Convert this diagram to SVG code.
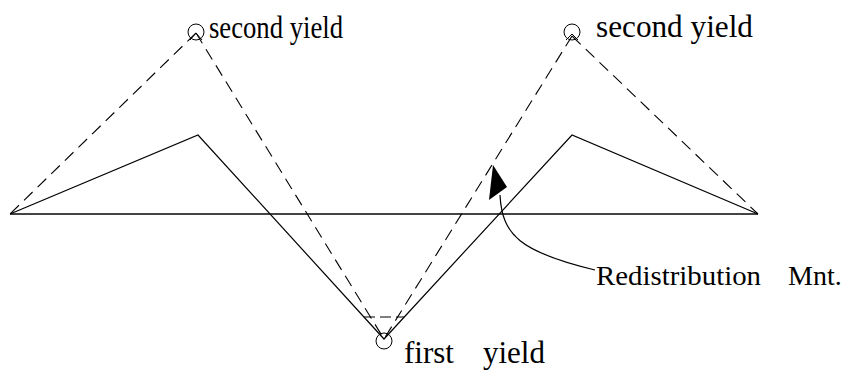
<svg xmlns="http://www.w3.org/2000/svg" width="845" height="372" viewBox="0 0 845 372">
  <style>
    .solid { fill: none; stroke: #000; stroke-width: 1.2; }
    .dash { fill: none; stroke: #000; stroke-width: 1.1; stroke-dasharray: 12 7; }
    .base { fill: none; stroke: #444; stroke-width: 1.8; }
    .hinge { fill: none; stroke: #000; stroke-width: 1; }
    text { font-family: 'Liberation Serif', 'Times New Roman', Tinos, 'DejaVu Serif', serif; fill: #000; }
  </style>
  <rect width="845" height="372" fill="#fff"/>

  <g id="connectors">
    <line class="base" x1="10" y1="214" x2="758" y2="214"/>
    <polyline class="solid" points="10,214 198,135 384,339 572,135 758,214"/>
    <polyline class="dash" points="196,33 10,214"/>
    <polyline class="dash" points="196,33 384,339"/>
    <polyline class="dash" points="572,36 384,339"/>
    <polyline class="dash" points="572,36 758,214"/>
    <line class="dash" x1="364" y1="317" x2="404" y2="317" style="stroke-dasharray:11 5"/>
  </g>

  <g id="second-yield-left">
    <circle class="hinge" cx="196" cy="32" r="8"/>
    <polyline class="hinge" points="190,40 196,33 202,40"/>
    <text font-family="'Liberation Serif', serif" x="209" y="38" font-size="31" textLength="134" lengthAdjust="spacingAndGlyphs">second yield</text>
  </g>

  <g id="second-yield-right">
    <circle class="hinge" cx="572" cy="32" r="8"/>
    <polyline class="hinge" points="566,40 572,34 578,40"/>
    <text font-family="'Liberation Serif', serif" x="596" y="37" font-size="31" textLength="157" lengthAdjust="spacingAndGlyphs">second yield</text>
  </g>

  <g id="first-yield">
    <circle class="hinge" cx="384" cy="341" r="8"/>
    <text font-family="'Liberation Serif', serif" x="404" y="363" font-size="31"><tspan x="404">first</tspan><tspan x="483">yield</tspan></text>
  </g>

  <g id="redistribution">
    <path class="solid" d="M500,195 C502,235 520,252 595,270"/>
    <polygon points="493,165 507,187 489,200" fill="#000"/>
    <text font-family="'Liberation Serif', serif" x="596" y="285" font-size="28"><tspan x="596" textLength="165" lengthAdjust="spacingAndGlyphs">Redistribution</tspan><tspan x="788">Mnt.</tspan></text>
  </g>
</svg>
